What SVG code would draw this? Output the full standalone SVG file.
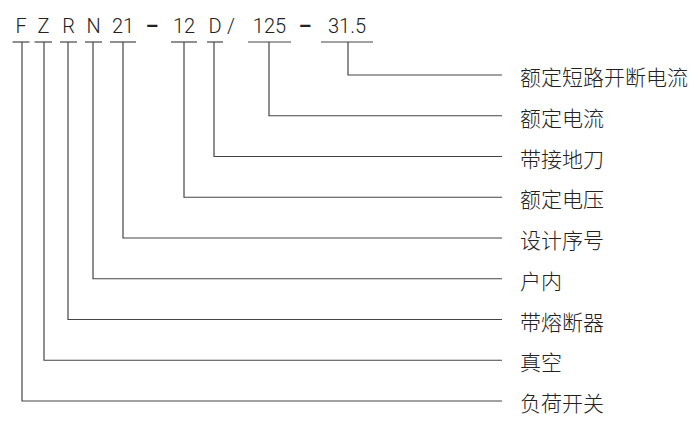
<svg xmlns="http://www.w3.org/2000/svg" width="699" height="422" viewBox="0 0 699 422">
<style>
.code{font-family:Roboto,"Liberation Sans",Arial,sans-serif;font-size:20px;font-weight:300;fill:#222;text-anchor:middle}
.dash{font-weight:700}
.lbl{font-family:"Noto Sans CJK SC","Noto Sans",sans-serif;font-size:21px;font-weight:300;fill:#222}
.ul{stroke:#444;stroke-width:1.2;fill:none}
.con{stroke:#444;stroke-width:1.2;fill:none}
</style>
<rect width="699" height="422" fill="#fff"/>
<g id="code">
<g id="c-F"><text class="code" x="21" y="33">F</text><line class="ul" x1="12.5" y1="42" x2="29.5" y2="42"/></g>
<g id="c-Z"><text class="code" x="43.5" y="33">Z</text><line class="ul" x1="34.5" y1="42" x2="52" y2="42"/></g>
<g id="c-R"><text class="code" x="68.5" y="33">R</text><line class="ul" x1="60" y1="42" x2="77" y2="42"/></g>
<g id="c-N"><text class="code" x="93.5" y="33">N</text><line class="ul" x1="85" y1="42" x2="102" y2="42"/></g>
<g id="c-21"><text class="code" x="123" y="33">21</text><line class="ul" x1="110" y1="42" x2="136" y2="42"/></g>
<text class="code dash" x="152" y="33">–</text>
<g id="c-12"><text class="code" x="184" y="33">12</text><line class="ul" x1="171" y1="42" x2="197" y2="42"/></g>
<g id="c-D"><text class="code" x="215" y="33">D</text><line class="ul" x1="207" y1="42" x2="223" y2="42"/></g>
<text class="code" x="231" y="33">/</text>
<g id="c-125"><text class="code" x="269.5" y="33">125</text><line class="ul" x1="248" y1="42" x2="291" y2="42"/></g>
<text class="code dash" x="305" y="33">–</text>
<g id="c-315"><text class="code" x="347" y="33">31.5</text><line class="ul" x1="321" y1="42" x2="373" y2="42"/></g>
</g>
<g id="connectors">
<polyline class="con" points="348,42 348,75 502,75"/>
<polyline class="con" points="269,42 269,115.75 502,115.75"/>
<polyline class="con" points="214,42 214,156.5 502,156.5"/>
<polyline class="con" points="184,42 184,197.25 502,197.25"/>
<polyline class="con" points="123,42 123,238 502,238"/>
<polyline class="con" points="93,42 93,278.75 502,278.75"/>
<polyline class="con" points="68,42 68,319.5 502,319.5"/>
<polyline class="con" points="44,42 44,360.25 502,360.25"/>
<polyline class="con" points="22,42 22,401 502,401"/>
</g>
<g id="n1"><text class="lbl" x="520" y="85">额定短路开断电流</text></g>
<g id="n2"><text class="lbl" x="520" y="125.75">额定电流</text></g>
<g id="n3"><text class="lbl" x="520" y="166.5">带接地刀</text></g>
<g id="n4"><text class="lbl" x="520" y="207.25">额定电压</text></g>
<g id="n5"><text class="lbl" x="520" y="248">设计序号</text></g>
<g id="n6"><text class="lbl" x="520" y="288.75">户内</text></g>
<g id="n7"><text class="lbl" x="520" y="329.5">带熔断器</text></g>
<g id="n8"><text class="lbl" x="520" y="370.25">真空</text></g>
<g id="n9"><text class="lbl" x="520" y="411">负荷开关</text></g>
</svg>
